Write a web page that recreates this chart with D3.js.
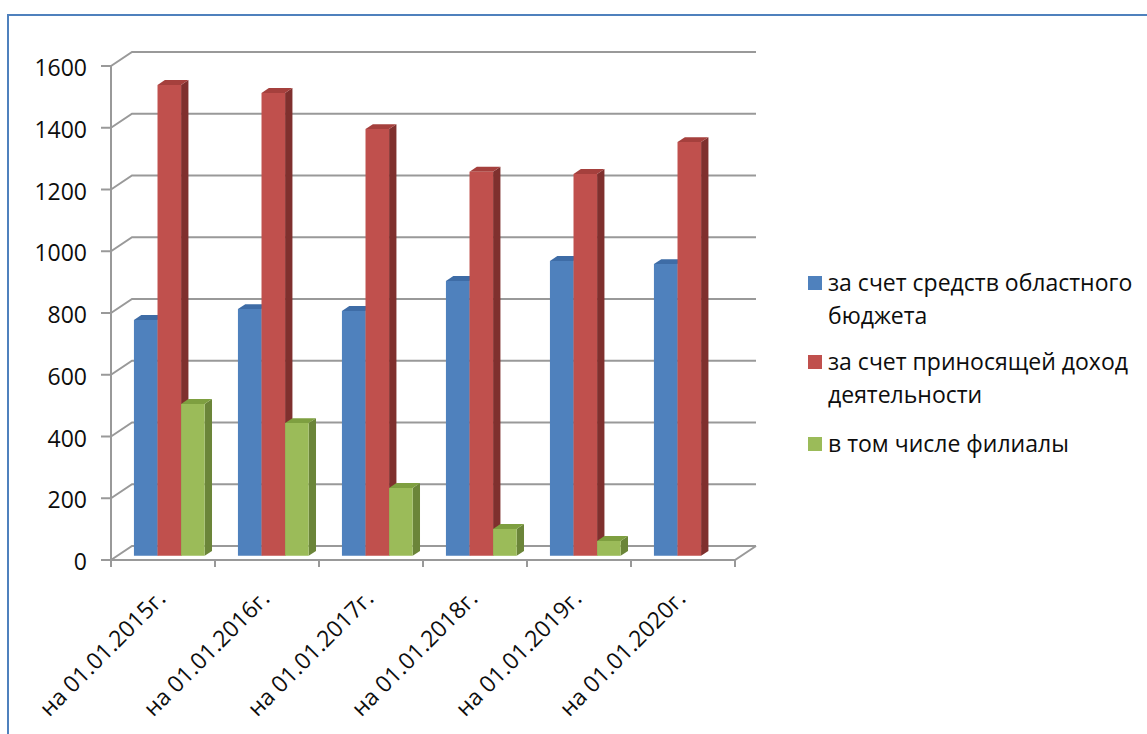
<!DOCTYPE html>
<html>
<head>
<meta charset="utf-8">
<script src="https://cdn.jsdelivr.net/npm/d3@7"></script>
<style>
  body { margin: 0; background: #fff; }
  text { font-family: "Open Sans", "DejaVu Sans", sans-serif; fill: #0d0d0d; }
</style>
</head>
<body>
<svg id="chart"></svg>
<script>
const width = 1147, height = 734;

// Data
const categories = ["на 01.01.2015г.", "на 01.01.2016г.", "на 01.01.2017г.",
                    "на 01.01.2018г.", "на 01.01.2019г.", "на 01.01.2020г."];
const budget = [764, 799, 793, 890, 955, 945];
const income = [1525, 1499, 1382, 1244, 1237, 1340];
const branches = [492, 430, 220, 87, 48, 0];
const seriesLabels = [
    ["за счет средств областного", "бюджета"],
    ["за счет приносящей доход", "деятельности"],
    ["в том числе филиалы"]
];
const yTicks = [0, 200, 400, 600, 800, 1000, 1200, 1400, 1600];

const seriesValues = [budget, income, branches];
const colors = [
    { front: "#4f81bd", top: "#3e6ca6", side: "#375f92" },
    { front: "#c0504d", top: "#a5403d", side: "#7f302e" },
    { front: "#9bbb59", top: "#7e9f40", side: "#6b8539" }
];

// 3D layout: front plane of plot + depth offset
const plotLeft = 111, plotTop = 66, plotW = 624, plotH = 494;
const DX = 21, DY = -14;
const z0 = 0.3, z1 = 0.65; // bar depth range
const fontSize = 23;

const svg = d3.select("#chart")
    .attr("width", width)
    .attr("height", height);

const x = d3.scaleBand().domain(categories).range([0, plotW]);
const y = d3.scaleLinear().domain([0, 1600]).range([plotH, 0]);
const xs = d3.scaleBand().domain(d3.range(3))
    .range([x.bandwidth() * 0.16, x.bandwidth() * 0.84]);

const proj = (xp, yp, z) => [plotLeft + xp + z * DX, plotTop + yp + z * DY];
const line = d3.line();

// frame
svg.append("path")
    .attr("d", `M8,${height} V15 H${width}`)
    .attr("fill", "none")
    .attr("stroke", "#4f81bd")
    .attr("stroke-width", 2);

const grid = svg.append("g")
    .attr("fill", "none")
    .attr("stroke", "#999")
    .attr("stroke-width", 2);

// back wall gridlines + side wall diagonals
grid.selectAll("path.grid")
    .data(yTicks)
    .enter()
    .append("path")
    .attr("class", "grid")
    .attr("d", t => line([proj(0, y(t), 0), proj(0, y(t), 1), proj(plotW, y(t), 1)]));

// floor front edge
grid.append("path")
    .attr("d", line([proj(0, plotH, 0), proj(plotW, plotH, 0), proj(plotW, plotH, 1)]));

// vertical axis
grid.append("path")
    .attr("d", line([proj(0, 0, 0), proj(0, plotH, 0)]));

// y ticks
grid.selectAll("path.ytick")
    .data(yTicks)
    .enter()
    .append("path")
    .attr("class", "ytick")
    .attr("d", t => line([[plotLeft - 10, plotTop + y(t)], [plotLeft, plotTop + y(t)]]));

// x ticks at category boundaries
const xBounds = categories.map(c => x(c)).concat([plotW]);
grid.selectAll("path.xtick")
    .data(xBounds)
    .enter()
    .append("path")
    .attr("class", "xtick")
    .attr("d", b => line([[plotLeft + b, plotTop + plotH], [plotLeft + b, plotTop + plotH + 7]]));

// bars
const bars = [];
categories.forEach((c, i) => {
    seriesValues.forEach((vals, s) => {
        if (vals[i] > 0) bars.push({ cat: c, s, v: vals[i] });
    });
});

const barG = svg.append("g").selectAll("g")
    .data(bars)
    .enter()
    .append("g");

barG.append("path")
    .attr("fill", d => colors[d.s].side)
    .attr("d", d => {
        const xr = x(d.cat) + xs(d.s) + xs.bandwidth();
        return line([proj(xr, y(d.v), z0), proj(xr, y(d.v), z1),
                     proj(xr, y(0), z1), proj(xr, y(0), z0)]) + "Z";
    });

barG.append("path")
    .attr("fill", d => colors[d.s].top)
    .attr("d", d => {
        const x0 = x(d.cat) + xs(d.s), xr = x0 + xs.bandwidth();
        return line([proj(x0, y(d.v), z0), proj(xr, y(d.v), z0),
                     proj(xr, y(d.v), z1), proj(x0, y(d.v), z1)]) + "Z";
    });

barG.append("path")
    .attr("fill", d => colors[d.s].front)
    .attr("d", d => {
        const x0 = x(d.cat) + xs(d.s), xr = x0 + xs.bandwidth();
        return line([proj(x0, y(d.v), z0), proj(xr, y(d.v), z0),
                     proj(xr, y(0), z0), proj(x0, y(0), z0)]) + "Z";
    });

// y labels
svg.append("g").selectAll("text")
    .data(yTicks)
    .enter()
    .append("text")
    .attr("x", 87)
    .attr("y", t => plotTop + y(t) + 2)
    .attr("dy", "0.35em")
    .attr("text-anchor", "end")
    .attr("font-size", fontSize)
    .text(t => t);

// x labels, rotated
svg.append("g").selectAll("text")
    .data(categories)
    .enter()
    .append("text")
    .attr("transform", c => `translate(${plotLeft + x(c) + x.bandwidth() / 2 + 4},600) rotate(-45)`)
    .attr("text-anchor", "end")
    .attr("font-size", fontSize)
    .text(c => c);

// legend
const legendY = [283, 362, 444];
const legend = svg.append("g").selectAll("g")
    .data(seriesLabels)
    .enter()
    .append("g")
    .attr("transform", (d, i) => `translate(808,${legendY[i]})`);

legend.append("rect")
    .attr("x", 0)
    .attr("y", -7)
    .attr("width", 14)
    .attr("height", 14)
    .attr("fill", (d, i) => colors[i].front);

legend.append("text")
    .attr("font-size", fontSize)
    .selectAll("tspan")
    .data(d => d)
    .enter()
    .append("tspan")
    .attr("x", 20)
    .attr("y", (d, j) => j * 33)
    .attr("dy", "0.35em")
    .text(d => d);
</script>
</body>
</html>
